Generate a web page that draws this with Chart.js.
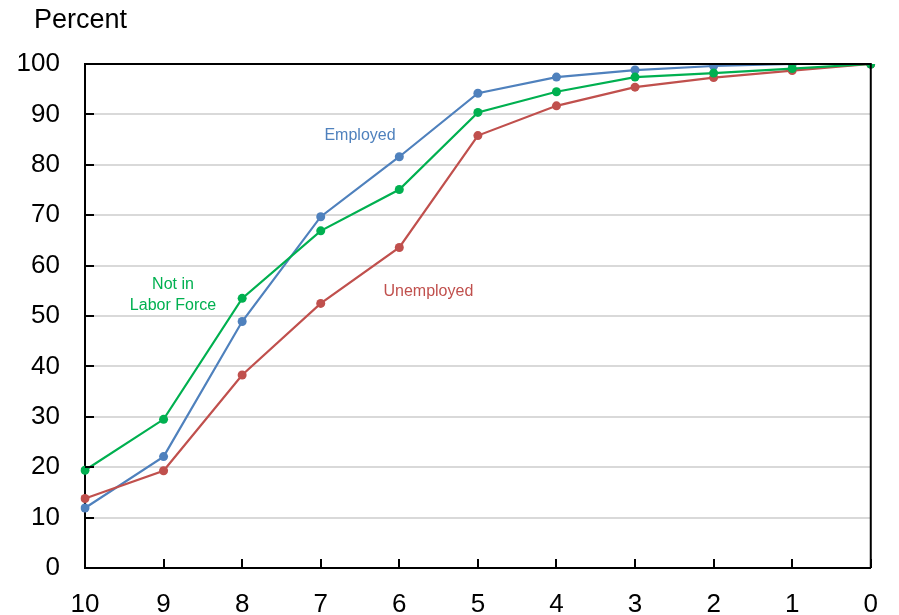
<!DOCTYPE html>
<html>
<head>
<meta charset="utf-8">
<script src="https://cdn.jsdelivr.net/npm/chart.js@4"></script>
<style>
  html, body { margin: 0; padding: 0; background: #fff; }
  #wrap { width: 899px; height: 615px; position: relative; }
</style>
</head>
<body>
<div id="wrap"><canvas id="grafico"></canvas></div>
<script>
const labelsX = ['10', '9', '8', '7', '6', '5', '4', '3', '2', '1', '0'];
const employed = [11.9, 22.1, 48.9, 69.7, 81.6, 94.2, 97.4, 98.8, 99.6, 100, 100];
const unemployed = [13.8, 19.3, 38.3, 52.5, 63.6, 85.8, 91.7, 95.4, 97.3, 98.7, 100];
const notInLF = [19.4, 29.5, 53.5, 66.9, 75.1, 90.4, 94.5, 97.4, 98.2, 99.1, 100];
const yTicks = [0, 10, 20, 30, 40, 50, 60, 70, 80, 90, 100];

const BLUE = '#4F81BD', RED = '#C0504D', GREEN = '#00B050';
const FONT = '"Liberation Sans", Arial, sans-serif';

// rótulos das séries: x = índice da categoria, y = valor
const rotulos = [
  { linhas: ['Employed'], x: 3.5, y: 85.8, cor: BLUE },
  { linhas: ['Unemployed'], x: 4.37, y: 54.9, cor: RED },
  { linhas: ['Not in', 'Labor Force'], x: 1.12, y: 56.3, cor: GREEN }
];

const moldura = {
  id: 'moldura',
  afterDraw(chart) {
    const { ctx, chartArea: a, scales: { x, y } } = chart;
    ctx.save();
    ctx.strokeStyle = '#000';
    ctx.lineWidth = 2;
    ctx.beginPath();
    ctx.moveTo(a.left, a.top); ctx.lineTo(a.right, a.top); ctx.lineTo(a.right, a.bottom);
    ctx.stroke();
    // ticks para dentro
    ctx.beginPath();
    yTicks.forEach(v => {
      const py = Math.round(y.getPixelForValue(v));
      ctx.moveTo(a.left, py); ctx.lineTo(a.left + 9, py);
    });
    labelsX.forEach((_, i) => {
      const px = Math.round(x.getPixelForValue(i));
      ctx.moveTo(px, a.bottom); ctx.lineTo(px, a.bottom - 9);
    });
    ctx.stroke();
    ctx.font = '16px ' + FONT;
    ctx.textAlign = 'center';
    ctx.textBaseline = 'middle';
    rotulos.forEach(r => {
      ctx.fillStyle = r.cor;
      const px = x.getPixelForValue(r.x);
      r.linhas.forEach((t, k) => {
        const py = y.getPixelForValue(r.y) + k * 21;
        ctx.fillText(t, px, py);
      });
    });
    ctx.font = '27px ' + FONT;
    ctx.fillStyle = '#000';
    ctx.textAlign = 'left';
    ctx.fillText('Percent', 34, 21);
    ctx.restore();
  }
};

const serie = (label, data, cor, order) => ({
  label, data, order,
  borderColor: cor, backgroundColor: cor,
  borderWidth: 2.2, pointRadius: 4.5, pointHoverRadius: 4.5,
  pointBorderWidth: 0, tension: 0
});

new Chart(document.getElementById('grafico'), {
  type: 'line',
  data: {
    labels: labelsX,
    datasets: [
      serie('Employed', employed, BLUE, 3),
      serie('Unemployed', unemployed, RED, 2),
      serie('Not in Labor Force', notInLF, GREEN, 1)
    ]
  },
  plugins: [moldura],
  options: {
    responsive: true,
    maintainAspectRatio: false,
    animation: false,
    events: [],
    layout: { padding: { top: 64, right: 24, bottom: 0, left: 0 } },
    plugins: { legend: { display: false }, tooltip: { enabled: false } },
    scales: {
      x: {
        offset: false,
        grid: { display: false, drawTicks: false },
        border: { color: '#000', width: 2 },
        ticks: { color: '#000', font: { family: FONT, size: 26 }, padding: 21, maxRotation: 0, autoSkip: false },
        afterFit: s => { s.height = 47; }
      },
      y: {
        min: 0, max: 100,
        afterBuildTicks: s => { s.ticks = yTicks.map(v => ({ value: v })); },
        grid: {
          drawTicks: false,
          lineWidth: 2,
          color: c => (c.tick && (c.tick.value === 0 || c.tick.value === 100)) ? 'rgba(0,0,0,0)' : '#D9D9D9'
        },
        border: { color: '#000', width: 2 },
        ticks: { color: '#000', font: { family: FONT, size: 26 }, padding: 25 },
        afterFit: s => { s.width = 85; }
      }
    }
  }
});
</script>
</body>
</html>
